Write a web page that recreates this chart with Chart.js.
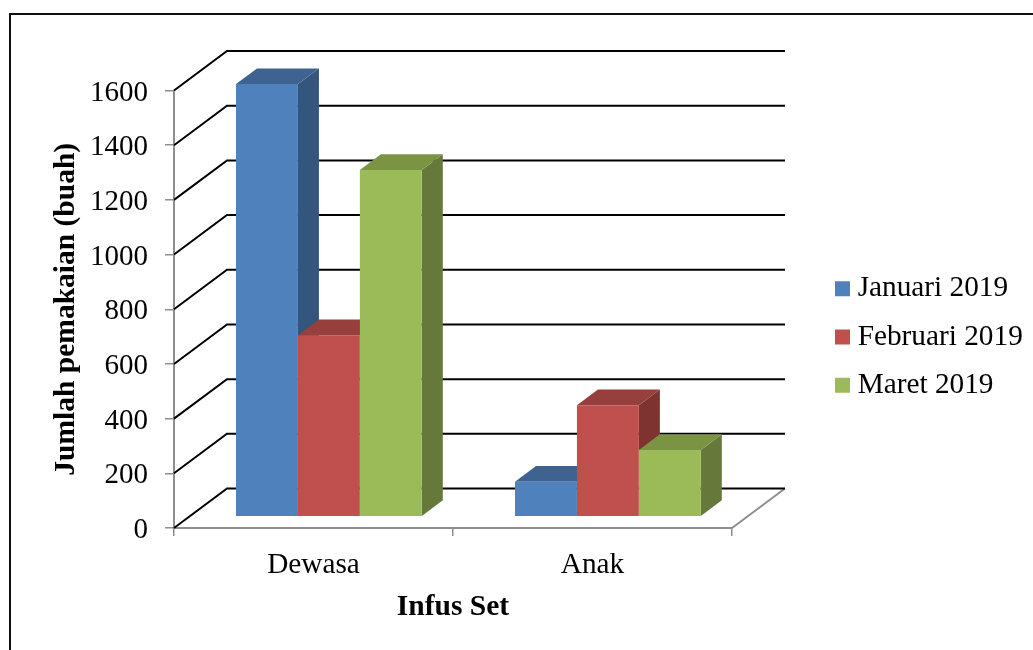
<!DOCTYPE html>
<html>
<head>
<meta charset="utf-8">
<title>Infus Set</title>
<script src="https://cdn.jsdelivr.net/npm/chart.js@4/dist/chart.umd.min.js"></script>
<style>
  html, body { margin: 0; padding: 0; background: #fff; overflow: hidden; }
  #frame { position: absolute; left: 9px; top: 13px; width: 1100px; height: 700px;
           border-left: 2px solid #111; border-top: 2px solid #111; }
  #wrap { position: absolute; left: 0; top: 0; width: 1033px; height: 650px; }
</style>
</head>
<body>
<div id="frame"></div>
<div id="wrap"><canvas id="usageChart"></canvas></div>
<script>
const categories = ['Dewasa', 'Anak'];
const januari = [1582, 128];
const februari = [664, 408];
const maret = [1268, 244];
const seriesNames = ['Januari 2019', 'Februari 2019', 'Maret 2019'];
const frontColors = ['#4F81BD', '#C0504D', '#9BBB59'];
const topColors = ['#3F6391', '#963F3C', '#7A9444'];
const sideColors = ['#34557C', '#7F3331', '#66783A'];

const FONT = 'Liberation Serif';
const GREY = '#8E8E8E';

// depth of the floor and of the columns standing in the middle of it
const wall = { dx: 53, dy: 39.5 };
const barOffset = { dx: 15.4, dy: 11.3 };
const barDepth = { dx: 21, dy: 15.7 };

function poly(ctx, pts, fill) {
  ctx.beginPath();
  pts.forEach((p, i) => i ? ctx.lineTo(p[0], p[1]) : ctx.moveTo(p[0], p[1]));
  ctx.closePath();
  ctx.fillStyle = fill;
  ctx.fill();
}

const depthPlugin = {
  id: 'depth',
  afterLayout(chart) {
    // legend sits right of the floor, a bit under the middle of the plot
    const legend = chart.legend;
    legend.left = 823;
    legend.right = legend.left + legend.width;
    legend.top = 337 - legend.height / 2;
    legend.bottom = legend.top + legend.height;
  },
  beforeDatasetsDraw(chart) {
    const ctx = chart.ctx;
    const { y } = chart.scales;
    const { left, right } = chart.chartArea;

    // floor edge on the right
    ctx.save();
    ctx.lineWidth = 2;
    ctx.strokeStyle = GREY;
    ctx.beginPath();
    ctx.moveTo(right, y.getPixelForValue(0));
    ctx.lineTo(right + wall.dx, y.getPixelForValue(0) - wall.dy);
    ctx.stroke();

    // gridlines run along the left wall and the back wall
    ctx.strokeStyle = '#000';
    y.ticks.forEach(t => {
      const py = y.getPixelForValue(t.value);
      ctx.beginPath();
      ctx.moveTo(left, py);
      ctx.lineTo(left + wall.dx, py - wall.dy);
      ctx.lineTo(right + wall.dx, py - wall.dy);
      ctx.stroke();
    });
    ctx.restore();

    // columns left to right, so each one covers the side of the previous
    ctx.save();
    ctx.translate(barOffset.dx, -barOffset.dy);
    chart.getSortedVisibleDatasetMetas().forEach(meta => {
      const i = meta.index;
      meta.data.forEach(bar => {
        const l = bar.x - bar.width / 2;
        const r = bar.x + bar.width / 2;
        const t = bar.y;
        const b = bar.base;
        const dx = barDepth.dx;
        const dy = barDepth.dy;
        poly(ctx, [[r, t], [r + dx, t - dy], [r + dx, b - dy], [r, b]], sideColors[i]);
        poly(ctx, [[l, t], [l + dx, t - dy], [r + dx, t - dy], [r, t]], topColors[i]);
      });
      meta.controller.draw();
    });
    ctx.restore();
    return false;
  }
};

new Chart(document.getElementById('usageChart'), {
  type: 'bar',
  data: {
    labels: categories,
    datasets: [
      { label: seriesNames[0], data: januari, backgroundColor: frontColors[0] },
      { label: seriesNames[1], data: februari, backgroundColor: frontColors[1] },
      { label: seriesNames[2], data: maret, backgroundColor: frontColors[2] }
    ]
  },
  options: {
    responsive: true,
    maintainAspectRatio: false,
    animation: false,
    categoryPercentage: 0.666,
    barPercentage: 1,
    layout: { padding: { left: 0, right: 301, top: 90.5, bottom: 0 } },
    plugins: {
      tooltip: { enabled: false },
      legend: {
        position: 'chartArea',
        labels: {
          usePointStyle: true,
          pointStyle: 'rect',
          boxWidth: 1,
          boxHeight: 15,
          padding: 19,
          color: '#000',
          font: { family: FONT, size: 29.3 }
        }
      }
    },
    scales: {
      x: {
        afterFit(s) { s.height = 122; },
        grid: { drawOnChartArea: false, tickLength: 8, tickColor: GREY, lineWidth: 1.5 },
        border: { color: GREY, width: 2 },
        ticks: { color: '#000', padding: 12, font: { family: FONT, size: 29.3 } },
        title: {
          display: true,
          text: 'Infus Set',
          color: '#000',
          padding: { top: 0, bottom: 25 },
          font: { family: FONT, size: 29.5, weight: 'bold' }
        }
      },
      y: {
        min: 0,
        max: 1600,
        afterFit(s) { s.width = 174; },
        grid: { drawOnChartArea: false, tickLength: 9, tickColor: GREY, lineWidth: 1.5 },
        border: { color: GREY, width: 2 },
        ticks: {
          stepSize: 200,
          color: '#000',
          padding: 17,
          labelOffset: 2.5,
          font: { family: FONT, size: 29 },
          callback: v => String(v)
        },
        title: {
          display: true,
          text: 'Jumlah pemakaian (buah)',
          color: '#000',
          padding: { top: 49, bottom: 0 },
          font: { family: FONT, size: 29.5, weight: 'bold' }
        }
      }
    }
  },
  plugins: [depthPlugin]
});
</script>
</body>
</html>
